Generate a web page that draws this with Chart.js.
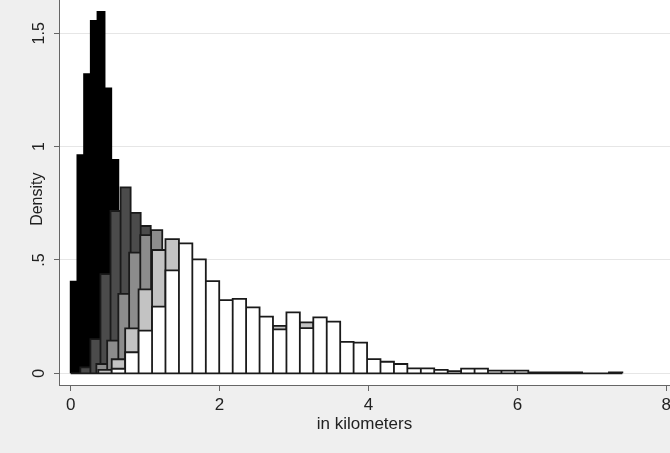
<!DOCTYPE html>
<html>
<head>
<meta charset="utf-8">
<script src="https://cdn.jsdelivr.net/npm/chart.js@4.4.1/dist/chart.umd.min.js"></script>
<style>
  html, body { margin: 0; padding: 0; background: #efefef; overflow: hidden; }
</style>
</head>
<body>
<canvas id="hist" width="670" height="453"></canvas>
<script>
// ─── Data (density, bin edges in km) ───
const blackEdges   = [0, 0.09, 0.18, 0.27, 0.36, 0.455, 0.545, 0.64];
const blackHeights = [0.404, 0.963, 1.32, 1.555, 1.595, 1.257, 0.941];

const darkEdges    = [0.13, 0.265, 0.40, 0.535, 0.67, 0.805, 0.94, 1.075];
const darkHeights  = [0.026, 0.151, 0.438, 0.716, 0.82, 0.708, 0.65];

const midEdges     = [0.345, 0.49, 0.64, 0.785, 0.935, 1.08, 1.23];
const midHeights   = [0.041, 0.144, 0.35, 0.532, 0.61, 0.632];

// only the bins that show from behind the white histogram
const lightEdges   = [0.371, 0.551, 0.732, 0.912, 1.093, 1.273, 1.454, 1.634, 1.815, 1.995,
                      2.176, 2.356, 2.537, 2.717, 2.898, 3.078, 3.259];
const lightHeights = [0.015, 0.062, 0.198, 0.37, 0.544, 0.592, null, null, null, null,
                      null, null, null, 0.209, null, 0.225];

const whiteEdges   = [0.551, 0.732, 0.912, 1.093, 1.273, 1.454, 1.634, 1.815, 1.995, 2.176,
                      2.356, 2.537, 2.717, 2.898, 3.078, 3.259, 3.439, 3.620, 3.800, 3.981,
                      4.161, 4.342, 4.522, 4.703, 4.883, 5.064, 5.244, 5.425, 5.605, 5.786,
                      5.966, 6.147, 6.327, 6.508, 6.688, 6.869, 7.049, 7.230, 7.410];
const whiteHeights = [0.02, 0.093, 0.188, 0.294, 0.454, 0.573, 0.503, 0.407, 0.323, 0.328,
                      0.291, 0.25, 0.194, 0.269, 0.199, 0.247, 0.228, 0.139, 0.135, 0.063,
                      0.051, 0.041, 0.022, 0.022, 0.015, 0.01, 0.021, 0.021, 0.012, 0.012,
                      0.012, 0.004, 0.004, 0.004, 0.004, 0, 0, 0.004];

const xTicks = [0, 2, 4, 6, 8];
const xTickLabels = ['0', '2', '4', '6', '8'];
const yTicks = [0, 0.5, 1, 1.5];
const yTickLabels = ['0', '.5', '1', '1.5'];

const X_MIN = -0.157, X_MAX = 8.05;
const Y_MIN = -0.0516, Y_MAX = 1.647;

const FONT = 'Liberation Sans, Arial, Helvetica, sans-serif';
const OUTLINE = '#1a1a1a';

// outline of a histogram: up/across/down for every bin, gaps where a bin is empty
function histPoints(edges, heights) {
  const pts = [];
  let open = false;
  heights.forEach((h, i) => {
    if (h === null || h === 0) {
      if (open) { pts.push({ x: edges[i], y: null }); open = false; }
      return;
    }
    if (!open) { pts.push({ x: edges[i], y: 0 }); open = true; }
    pts.push({ x: edges[i], y: h }, { x: edges[i + 1], y: h }, { x: edges[i + 1], y: 0 });
  });
  return pts;
}

function histSet(edges, heights, fill, order, outline = OUTLINE) {
  return {
    data: histPoints(edges, heights),
    borderColor: outline,
    backgroundColor: fill,
    borderWidth: 1.8,
    borderJoinStyle: 'miter',
    fill: 'origin',
    tension: 0,
    pointRadius: 0,
    pointHitRadius: 0,
    spanGaps: false,
    order,
  };
}

const allEdges = [].concat(blackEdges, darkEdges, midEdges, lightEdges, whiteEdges);
const baseline = {
  data: [{ x: Math.min(...allEdges), y: 0 }, { x: Math.max(...allEdges), y: 0 }],
  borderColor: OUTLINE, borderWidth: 1.8, pointRadius: 0, fill: false, order: 0,
};

const bgPlugin = {
  id: 'bg',
  beforeDraw(chart) {
    const { ctx, chartArea: a, width, height } = chart;
    ctx.save();
    ctx.fillStyle = '#efefef';
    ctx.fillRect(0, 0, width, height);
    ctx.fillStyle = '#ffffff';
    ctx.fillRect(a.left, a.top, a.right - a.left, a.bottom - a.top);
    ctx.restore();
  }
};

new Chart(document.getElementById('hist'), {
  type: 'line',
  data: {
    datasets: [
      histSet(blackEdges, blackHeights, '#000000', 5, '#000000'),
      histSet(darkEdges, darkHeights, '#4b4b4b', 4),
      histSet(midEdges, midHeights, '#8c8c8c', 3),
      histSet(lightEdges, lightHeights, '#c3c3c3', 2),
      histSet(whiteEdges, whiteHeights, '#ffffff', 1),
      baseline,
    ],
  },
  options: {
    responsive: false,
    animation: false,
    layout: { padding: 0 },
    plugins: { legend: { display: false }, tooltip: { enabled: false } },
    scales: {
      x: {
        type: 'linear', min: X_MIN, max: X_MAX,
        afterBuildTicks: s => { s.ticks = xTicks.map(v => ({ value: v })); },
        afterFit: s => { s.height = 68; s.paddingLeft = 0; s.paddingRight = 0; },
        ticks: {
          maxRotation: 0, padding: 4, color: '#222',
          font: { family: FONT, size: 17 },
          callback: v => xTickLabels[xTicks.indexOf(v)],
        },
        grid: { drawOnChartArea: false, tickColor: '#666', tickLength: 6 },
        border: { color: '#666', width: 1 },
        title: {
          display: true, text: 'in kilometers', color: '#222',
          font: { family: FONT, size: 17 },
          padding: { top: 0, bottom: 18 },
        },
      },
      y: {
        type: 'linear', min: Y_MIN, max: Y_MAX,
        afterBuildTicks: s => { s.ticks = yTicks.map(v => ({ value: v })); },
        afterFit: s => { s.width = 59; s.paddingTop = 0; s.paddingBottom = 0; },
        ticks: {
          minRotation: 90, maxRotation: 90, crossAlign: 'center', padding: 3, color: '#222',
          font: { family: FONT, size: 16 },
          callback: v => yTickLabels[yTicks.indexOf(v)],
        },
        grid: { color: '#e6e6e6', lineWidth: 1, tickColor: '#666', tickLength: 5 },
        border: { color: '#666', width: 1 },
        title: {
          display: true, text: 'Density\u00a0\u00a0\u00a0', color: '#222',
          font: { family: FONT, size: 16 },
          padding: { top: 28, bottom: 0 },
        },
      },
    },
  },
  plugins: [bgPlugin],
});
</script>
</body>
</html>
